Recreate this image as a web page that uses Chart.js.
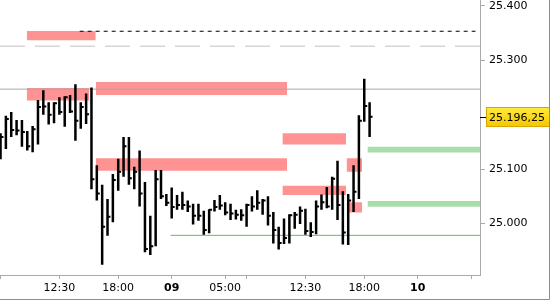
<!DOCTYPE html>
<html><head><meta charset="utf-8">
<script src="https://cdn.jsdelivr.net/npm/chart.js@4/dist/chart.umd.min.js"></script>
<style>html,body{margin:0;padding:0;background:#fff}#c{display:block}</style>
</head><body>
<canvas id="c" width="550" height="300"></canvas>
<script>
// 30-minute bars, x = bar slot index
const barIndex = Array.from({length:70}, (_, i) => i);
const highs  = [25166,25198,25205,25190,25190,25170,25179,25227,25245,25223,25223,25232,25234,25236,25256,25223,25239,25250,25107,25071,
                25045,25091,25119,25159,25159,25104,25134,25076,25014,25098,25098,25054,25066,25052,25058,25042,25036,25036,25023,25026,
                25043,25052,25039,25036,25025,25026,25036,25050,25061,25045,25050,25021,24994,25009,25017,25021,25031,25027,25002,25042,
                25053,25067,25086,25115,25059,25054,25107,25199,25266,25223];
const lows   = [25118,25137,25159,25162,25141,25134,25131,25145,25200,25182,25184,25200,25178,25203,25152,25174,25183,25063,25042,24924,
                24977,25002,25060,25086,25071,25063,25031,24947,24942,24958,25045,25032,25009,25025,25025,25021,24998,25005,24979,24982,
                25022,25025,25015,25006,25007,25005,24994,25022,25025,25016,24996,24963,24952,24962,24963,24990,24999,24979,24975,24980,
                25025,25028,25025,25006,24961,24960,25021,25045,25187,25159];
const closes = [25159,25192,25172,25171,25168,25142,25173,25214,25215,25200,25221,25205,25232,25206,25189,25214,25201,25081,25055,24994,
                25012,25080,25095,25142,25083,25095,25055,24953,24958,25081,25050,25038,25030,25034,25034,25031,25014,25014,24988,25025,
                25030,25033,25020,25018,25016,25015,25034,25031,25038,25042,25014,24988,24964,24973,25015,25016,25023,24986,24984,25031,
                25039,25031,25082,25034,24983,25042,25058,25189,25216,25196.25];
const lastPrice = 25196.25;

// supply zones (pink)
const zoneStart  = [4.9, 4.9, 17.8, 17.8, 52.7, 52.7, 64.7, 65.1];
const zoneEnd    = [17.8, 16.6, 53.6, 53.6, 64.6, 64.6, 67.6, 67.6];
const zoneTop    = [25354, 25249, 25260, 25120, 25166, 25069, 25120, 25039];
const zoneBottom = [25337, 25226, 25236, 25097, 25145, 25052, 25095, 25020];
// demand zones (green)
const greenStart  = [68.6, 68.6];
const greenEnd    = [89.64, 89.64];
const greenTop    = [25141, 25041];
const greenBottom = [25130.5, 25030.5];
// reference levels
const levelValue = [25353.5, 25326, 25247, 24978];
const levelStart = [14.8, -0.1, -0.1, 31.8];
const levelEnd   = [88.8, 89.64, 89.64, 89.64];

const yTickValues = [25000, 25100, 25300, 25400];
const xTickPos    = [0, 11, 22, 32, 42, 46, 57, 68, 78, 88];
const xTickLabels = ['', '12:30', '18:00', '09', '05:00', '', '12:30', '18:00', '10', ''];
const xTickBold   = [false, false, false, true, false, false, false, false, true, false];

const fmtTick = v => { const s = Math.round(v).toString(); return s.slice(0, -3) + '.' + s.slice(-3); };
const fmtPrice = v => { const s = v.toFixed(2); const ip = s.split('.')[0]; return ip.slice(0, -3) + '.' + ip.slice(-3) + ',' + s.split('.')[1]; };

const hlData = [], closeData = [];
barIndex.forEach((x, i) => {
  hlData.push({x, y: lows[i]}, {x, y: highs[i]}, {x, y: null});
  closeData.push({x, y: closes[i]}, {x: x + 0.55, y: closes[i]}, {x, y: null});
});

const datasets = [
  {data: hlData, borderColor: '#000', borderWidth: 2.5, pointRadius: 0, spanGaps: false, borderCapStyle: 'butt', order: 0},
  {data: closeData, borderColor: '#000', borderWidth: 2, pointRadius: 0, spanGaps: false, borderCapStyle: 'butt', order: 0},
];
zoneStart.forEach((s, k) => datasets.push({
  data: [{x: s, y: zoneTop[k]}, {x: zoneEnd[k], y: zoneTop[k]}],
  fill: {value: zoneBottom[k]}, backgroundColor: '#ff9292', borderColor: 'rgba(0,0,0,0)', borderWidth: 0, pointRadius: 0, order: 3
}));
greenStart.forEach((s, k) => datasets.push({
  data: [{x: s, y: greenTop[k]}, {x: greenEnd[k], y: greenTop[k]}],
  fill: {value: greenBottom[k]}, backgroundColor: '#a9dda9', borderColor: 'rgba(0,0,0,0)', borderWidth: 0, pointRadius: 0, order: 3
}));
const levelStyles = [
  {borderColor: '#000', borderWidth: 1, borderDash: [4, 4]},
  {borderColor: '#d6d6d6', borderWidth: 1.5, borderDash: [25, 10]},
  {borderColor: '#a8a8a8', borderWidth: 1},
  {borderColor: '#5cbf5c', borderWidth: 1},
];
levelValue.forEach((v, k) => datasets.push(Object.assign({
  data: [{x: levelStart[k], y: v}, {x: levelEnd[k], y: v}], pointRadius: 0, fill: false, order: 1
}, levelStyles[k])));

const priceTag = {
  id: 'priceTag',
  afterDraw(chart) {
    const {ctx, scales: {y}, chartArea} = chart;
    const py = Math.round(y.getPixelForValue(lastPrice));
    ctx.save();
    ctx.strokeStyle = '#000'; ctx.lineWidth = 1;
    ctx.beginPath(); ctx.moveTo(chartArea.right, py + 0.5); ctx.lineTo(chartArea.right + 6, py + 0.5); ctx.stroke();
    const g = ctx.createLinearGradient(0, py - 10, 0, py + 10);
    g.addColorStop(0, '#ffec40'); g.addColorStop(1, '#f5c400');
    ctx.fillStyle = g; ctx.fillRect(chartArea.right + 6, py - 10, 64, 20);
    ctx.strokeStyle = '#d8a400'; ctx.strokeRect(chartArea.right + 6.5, py - 9.5, 63, 19);
    ctx.fillStyle = '#000'; ctx.font = '11px "DejaVu Sans"'; ctx.textBaseline = 'middle'; ctx.textAlign = 'left';
    ctx.fillText(fmtPrice(lastPrice), chartArea.right + 9, py + 1);
    ctx.strokeStyle = '#8c8c8c';
    ctx.beginPath(); ctx.moveTo(chart.width - 0.5, 0); ctx.lineTo(chart.width - 0.5, chart.height - 0.5); ctx.lineTo(0, chart.height - 0.5); ctx.stroke();
    ctx.restore();
  }
};

new Chart(document.getElementById('c'), {
  type: 'line',
  data: {datasets},
  plugins: [priceTag],
  options: {
    responsive: false, animation: false, devicePixelRatio: 1,
    layout: {padding: 0},
    elements: {line: {tension: 0}},
    plugins: {legend: {display: false}, tooltip: {enabled: false}},
    scales: {
      x: {
        type: 'linear', min: -0.1, max: 89.64,
        afterFit(s) { s.height = 25; s.paddingLeft = 0; s.paddingRight = 0; s.paddingTop = 0; s.paddingBottom = 0; },
        afterBuildTicks(s) { s.ticks = xTickPos.map(v => ({value: v})); },
        ticks: {
          autoSkip: false, maxRotation: 0, padding: 3, color: '#000',
          callback: (v, i) => xTickLabels[i],
          font: c => ({family: 'DejaVu Sans', size: 11, weight: xTickBold[c.index] ? 'bold' : 'normal'})
        },
        grid: {drawOnChartArea: false, drawTicks: true, tickLength: 4, tickColor: '#aaa'},
        border: {display: true, color: '#aaa'}
      },
      y: {
        type: 'linear', position: 'right', min: 24905, max: 25411,
        afterFit(s) { s.width = 70; s.paddingLeft = 0; s.paddingRight = 0; s.paddingTop = 0; s.paddingBottom = 0; },
        afterBuildTicks(s) { s.ticks = yTickValues.map(v => ({value: v})); },
        ticks: {callback: v => fmtTick(v), color: '#000', padding: 4, font: {family: 'DejaVu Sans', size: 11}},
        grid: {drawOnChartArea: false, drawTicks: true, tickLength: 5, tickColor: '#aaa'},
        border: {display: true, color: '#aaa'}
      }
    }
  }
});
</script>
</body></html>
